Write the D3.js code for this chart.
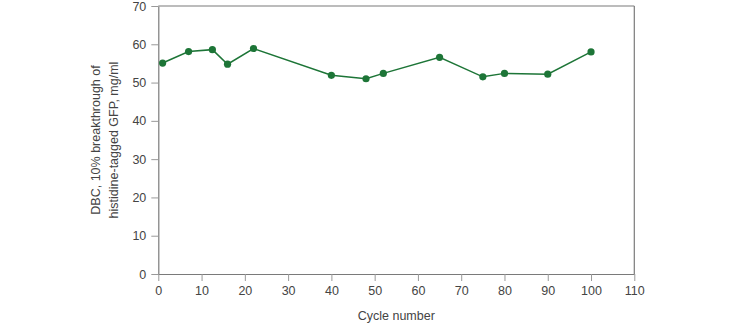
<!DOCTYPE html>
<html><head><meta charset="utf-8">
<script src="https://cdn.jsdelivr.net/npm/d3@7"></script>
<style>body{margin:0;background:#fff}text{font-family:"Liberation Sans",Arial,sans-serif}</style>
</head><body><svg id="c" width="750" height="333"></svg>
<script>
const cycles = [1, 7, 12.5, 16, 22, 40, 48, 52, 65, 75, 80, 90, 100];
const dbc = [55.1, 58.1, 58.6, 54.8, 58.9, 51.9, 51.0, 52.4, 56.6, 51.5, 52.4, 52.2, 58.0];
const xTicks = [0,10,20,30,40,50,60,70,80,90,100,110];
const yTicks = [0,10,20,30,40,50,60,70];
const xLabel = "Cycle number";
const yLabel = ["DBC, 10% breakthrough of", "histidine-tagged GFP, mg/ml"];

const svg = d3.select("#c");
const L=158.3, R=634.3, T=6, B=274;
const x = d3.scaleLinear().domain([0,110]).range([L,R]);
const y = d3.scaleLinear().domain([0,70]).range([B,T]);
const axisCol="#7a7a7a", textCol="#444";

const gx = svg.append("g").attr("transform",`translate(0,${B})`)
  .call(d3.axisBottom(x).tickValues(xTicks).tickSize(7).tickPadding(5).tickSizeOuter(0));
const gy = svg.append("g").attr("transform",`translate(${L},0)`)
  .call(d3.axisLeft(y).tickValues(yTicks).tickSize(7).tickPadding(5).tickSizeOuter(0));
[gx,gy].forEach(g=>{
  g.select(".domain").attr("stroke",axisCol).attr("stroke-width",1.2);
  g.selectAll(".tick line").attr("stroke","#999");
  g.selectAll(".tick text").attr("fill",textCol).attr("font-size",12.5);
});
svg.append("line").attr("x1",L).attr("x2",R).attr("y1",T).attr("y2",T).attr("stroke",axisCol).attr("stroke-width",1.2);
svg.append("line").attr("x1",R).attr("x2",R).attr("y1",T).attr("y2",B).attr("stroke",axisCol).attr("stroke-width",1.2);

svg.append("text").attr("x",(L+R)/2).attr("y",320).attr("text-anchor","middle")
  .attr("fill",textCol).attr("font-size",12.5).text(xLabel);
const yl = svg.append("text").attr("transform",`translate(100,${(T+B)/2}) rotate(-90)`)
  .attr("text-anchor","middle").attr("fill",textCol).attr("font-size",12.5);
yLabel.forEach((t,i)=>yl.append("tspan").attr("x",0).attr("dy",i?"1.4em":0).text(t));

const data = cycles.map((c,i)=>({c, v:dbc[i]}));
const green="#1d7537";
svg.append("path").datum(data).attr("fill","none").attr("stroke",green).attr("stroke-width",1.5)
  .attr("d", d3.line().x(d=>x(d.c)).y(d=>y(d.v)));
svg.selectAll("circle").data(data).join("circle")
  .attr("cx",d=>x(d.c)).attr("cy",d=>y(d.v)).attr("r",3.6).attr("fill",green);
</script></body></html>
